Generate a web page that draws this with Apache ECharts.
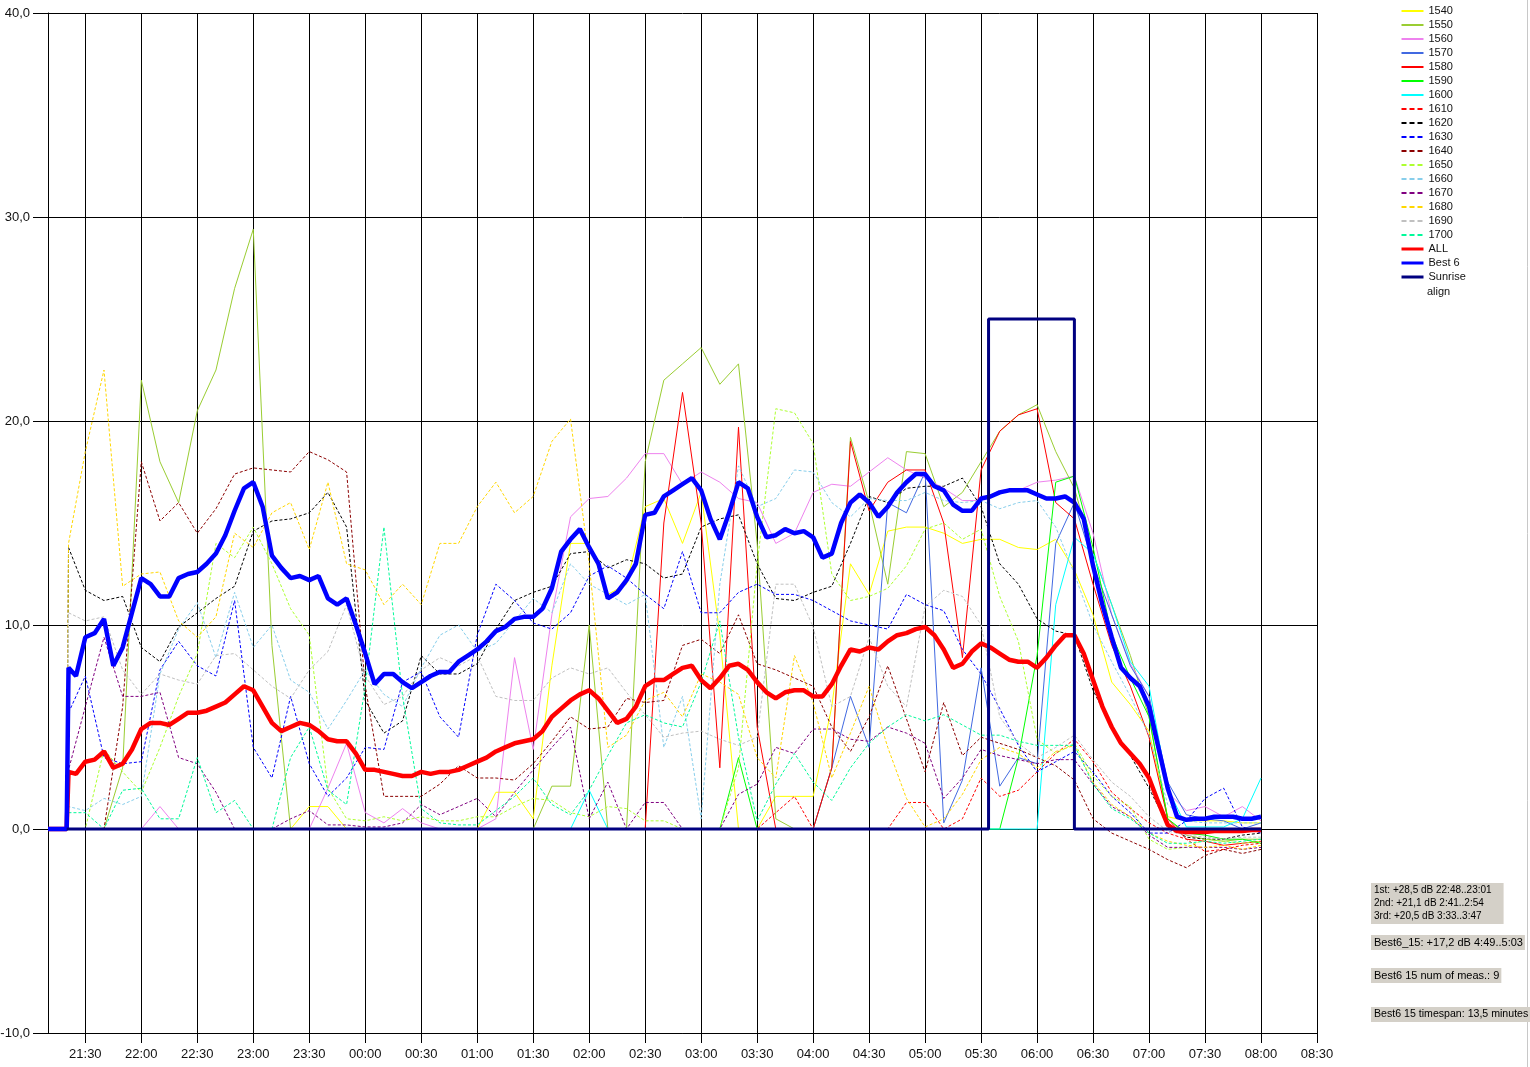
<!DOCTYPE html>
<html><head><meta charset="utf-8">
<script src="https://cdn.jsdelivr.net/npm/echarts@6.0.0/dist/echarts.min.js"></script>
<style>html,body{margin:0;padding:0;background:#fff}#c{width:1530px;height:1067px}</style>
</head><body><div id="c"></div>
<script>
// ---- axis ticks (minutes after 21:30) ----
const xTickValues = [0,30,60,90,120,150,180,210,240,270,300,330,360,390,420,450,480,510,540,570,600,630,660];
const xTickLabels = ['21:30','22:00','22:30','23:00','23:30','00:00','00:30','01:00','01:30','02:00','02:30','03:00','03:30','04:00','04:30','05:00','05:30','06:00','06:30','07:00','07:30','08:00','08:30'];

// ---- time grids (minutes after 21:30) ----
const minutesThin = [-20, -10, -9].concat(Array.from({length: 64}, (_, i) => i * 10));
const minutesMain = [-20, -10, -9, -5].concat(Array.from({length: 127}, (_, i) => i * 5));

// ---- thin series values (dB) ----
const s1540 = [0,0,0,
 0,0,0,0,0,0,0,0,0,0,
 0,0,1.1,1.1,0,0,0,0,0,0,
 0,0,1.8,1.8,0.5,8.0,14.0,14.0,11.5,12.0,
 15.8,16.2,14.0,16.5,9.5,0,0,1.6,1.6,1.6,
 6.0,13.0,11.5,14.6,14.8,14.8,14.5,14.0,14.2,14.2,
 13.8,13.7,14.2,12.7,10.5,7.2,6.1,4.8,0.6,0.4,
 0.4,0.4,0.3,0.3];
const s1550 = [0,0,0,
 0,0,3.0,22.0,18.0,16.0,20.5,22.5,26.5,29.4,
 9.0,0,0,0,0,0,0,0,0,0,
 0,0,0,0,0,2.1,2.1,10.0,0,0,
 18.0,22.0,22.8,23.6,21.8,22.8,14.0,0.5,0,0,
 3.0,19.2,16.0,12.0,18.5,18.4,15.8,16.5,18.0,19.5,
 20.3,20.8,18.5,16.7,13.5,11.0,8.5,5.5,0.5,-0.3,
 -0.5,-0.6,-0.5,-0.5];
const s1560 = [0,0,0,
 0,0,0,0,1.1,0,0,0,0,0,
 0,0,0,2.0,4.2,0.8,0.3,1.0,0.3,0,
 0,0,0.5,8.4,3.9,10.5,15.3,16.2,16.3,17.2,
 18.4,18.4,16.9,17.5,17.0,16.2,16.0,14.0,14.5,16.5,
 16.9,16.8,17.5,18.2,17.6,17.2,16.7,16.1,16.1,16.6,
 16.6,17.0,17.1,17.3,14.5,10.5,8.1,6.5,1.8,0.9,
 1.1,0.6,1.1,0.4];
const s1570 = [0,0,0,
 0,0,0,0,0,0,0,0,0,0,
 0,0,0,0,0,0,0,0,0,0,
 0,0,0,0,0,0,0,0,0,0,
 0,0,0,0,0,0,0,0,0,0,
 3.0,6.5,4.0,16.0,15.5,17.5,0.3,2.4,7.9,2.1,
 3.5,3.2,14.0,16.0,13.0,10.5,8.0,6.5,2.3,0.7,
 0.5,0.4,0,0.3];
const s1580 = [0,0,0,
 0,0,0,0,0,0,0,0,0,0,
 0,0,0,0,0,0,0,0,0,0,
 0,0,0,0,0,0,0,0,0,0,
 0,15.0,21.4,15.0,3.0,19.7,5.0,0,0,0,
 3.0,19.0,15.6,17.0,17.6,17.6,15.0,8.4,17.6,19.5,
 20.3,20.6,16.0,15.2,12.0,9.0,7.0,4.5,0.5,-0.5,
 -0.6,-0.8,-0.7,-0.6];
const s1590 = [0,0,0,
 0,0,0,0,0,0,0,0,0,0,
 0,0,0,0,0,0,0,0,0,0,
 0,0,0,0,0,0,0,0,0,0,
 0,0,0,0,0,3.5,0,0,0,0,
 0,0,0,0,0,0,0,0,0,0,
 3.5,8.5,17.0,17.3,13.8,9.5,7.4,5.5,0.5,-0.2,
 -0.3,-0.5,-0.5,-0.7];
const s1600 = [0,0,0,
 0,0,0,0,0,0,0,0,0,0,
 0,0,0,0,0,0,0,0,0,0,
 0,0,0,0,0,0,0,1.9,0,0,
 0,0,0,0,0,0,0,0,0,0,
 0,0,0,0,0,0,0,0,0,0,
 0,0,11.0,14.3,13.5,11.0,8.2,7.0,2.0,0.1,
 0.1,0.1,0.5,2.5];
const s1610 = [0,0,0,
 0,0,0,0,0,0,0,0,0,0,
 0,0,0,0,0,0,0,0,0,0,
 0,0,0,0,0,0,0,0,0,0,
 0,0,0,0,0,0,0,0.8,1.6,0,
 0,0,0,0,1.3,1.3,0,0.5,2.5,1.6,
 1.9,2.8,3.7,4.4,3.3,1.8,1.0,0.3,-0.2,-0.5,
 -1.1,-1.0,-0.8,-0.7];
const s1620 = [0,0,13.8,
 11.7,11.2,11.4,8.9,8.2,9.9,10.6,11.3,11.9,14.6,
 15.1,15.2,15.5,16.5,14.8,6.3,4.7,5.3,8.5,7.6,
 7.6,8.1,9.8,11.2,11.6,11.9,13.5,13.6,12.8,13.2,
 13.0,12.3,12.5,14.8,15.2,15.4,13.0,11.3,11.2,11.6,
 11.9,14.0,16.3,16.0,16.7,16.8,16.8,17.2,15.8,13.0,
 12.0,10.3,9.7,9.5,6.8,5.0,3.6,2.0,0.2,-0.4,
 -0.5,-0.5,-0.3,-0.2];
const s1630 = [0,0,5.7,
 7.5,3.5,3.2,3.3,7.8,9.2,8.0,7.5,11.2,4.0,
 2.5,6.5,3.2,1.6,2.5,4.0,3.9,7.2,7.7,5.5,
 4.5,9.5,12.0,11.2,10.1,9.8,10.6,12.4,12.9,12.3,
 11.5,10.8,13.6,10.6,10.6,11.6,12.0,11.5,11.5,11.2,
 10.7,10.2,10.0,9.8,11.5,11.0,10.7,8.8,7.6,5.9,
 4.1,2.8,3.3,3.8,2.8,1.6,0.8,-0.2,-0.2,0.4,
 1.5,2.0,0.1,-0.2];
const s1640 = [0,0,0,
 0,0,6.0,18.0,15.1,16.0,14.5,15.7,17.4,17.7,
 17.6,17.5,18.5,18.1,17.5,7.0,1.6,1.6,1.6,2.2,
 3.1,2.5,2.5,2.4,3.2,4.3,5.5,4.9,5.0,6.4,
 6.2,6.3,9.0,9.3,8.6,10.5,8.1,7.8,7.4,7.0,
 5.0,3.8,5.5,8.0,5.4,2.8,6.2,3.6,4.5,4.2,
 3.9,3.5,3.1,2.4,0.5,-0.2,-0.6,-1.0,-1.5,-1.9,
 -1.3,-1.0,-1.2,-1.0];
const s1650 = [0,0,0,
 0,3.9,2.8,1.8,4.0,6.5,8.6,14.0,13.3,14.8,
 13.0,10.8,9.5,2.0,0.5,0.4,0.6,0.4,0.6,0.4,
 0.4,0.6,0.6,1.1,1.5,1.4,0.8,0.6,1.1,1.0,
 0.4,0.4,0,0,0,3.0,13.0,20.6,20.4,18.9,
 12.5,11.2,11.4,11.8,12.9,14.7,15.0,14.2,14.7,11.4,
 9.2,4.4,3.7,4.2,2.6,1.6,1.1,-0.5,-1.0,-0.9,
 -0.5,-0.6,-0.7,-0.6];
const s1660 = [0,0,1.1,
 0.9,1.5,1.2,1.6,7.6,9.8,11.1,8.4,11.6,8.9,
 10.0,7.3,6.7,4.9,6.3,7.8,6.6,6.0,7.9,9.5,
 10.0,8.7,9.1,10.2,11.3,10.6,13.0,12.0,11.5,11.0,
 11.5,4.0,6.5,0.5,12.0,17.8,15.8,16.2,17.6,17.5,
 16.0,15.3,16.2,16.1,16.1,16.5,16.1,16.0,16.1,15.7,
 16.0,16.1,14.8,12.5,10.0,8.2,6.5,4.6,1.2,0.4,
 0.3,0.3,0.3,0.3];
const s1670 = [0,0,2.9,
 6.0,9.4,6.5,6.5,6.7,3.5,3.2,1.8,0,0,
 0,0.5,0.9,0.2,0.2,0.1,0.1,0.3,1.2,0.7,
 1.1,1.5,0.6,1.8,2.9,4.0,5.0,0.5,2.3,0,
 1.3,1.3,0,0,0,1.7,2.2,4.0,3.7,4.9,
 4.9,4.4,4.3,5.0,4.7,4.2,1.5,2.5,3.9,3.6,
 3.4,3.2,3.4,3.4,2.2,1.1,0.6,-0.3,-0.9,-0.9,
 -0.9,-0.9,-1.0,-0.9];
const s1680 = [0,0,14.0,
 18.5,22.5,11.9,12.5,12.6,10.2,9.4,10.4,14.5,13.8,
 15.5,16.0,13.7,17.0,13.0,12.7,11.0,12.0,11.0,14.0,
 14.0,15.8,17.0,15.5,16.3,19.0,20.1,13.0,4.0,4.6,
 6.3,6.7,5.5,7.6,7.2,6.6,3.5,2.5,8.5,6.2,
 2.5,4.7,7.0,4.0,1.5,0.1,0.5,1.7,3.4,4.0,
 3.7,3.0,3.8,4.1,2.3,1.2,0.6,-0.2,-0.6,-0.8,
 -0.9,-0.8,-1.0,-0.8];
const s1690 = [0,0,10.6,
 10.2,10.4,7.8,6.6,7.6,7.3,7.1,8.5,8.6,7.8,
 7.0,6.4,7.8,8.7,11.0,7.5,6.1,6.5,7.8,8.4,
 8.0,8.5,6.5,6.3,6.3,7.4,7.9,7.6,7.9,6.7,
 5.6,4.5,4.7,4.8,4.4,4.1,4.5,12.0,12.0,9.9,
 6.0,6.5,9.4,7.0,6.0,10.9,11.7,11.4,10.0,5.5,
 4.2,3.5,4.0,4.6,3.4,2.3,1.6,0.6,-0.1,-0.3,
 -0.4,-0.5,-0.4,-0.4];
const s1700 = [0,0,0.8,
 0.8,0,1.9,2.0,0.5,0.5,3.5,0.8,1.4,0,
 0,3.5,5.0,1.9,1.2,7.0,14.8,6.5,1.0,0.3,
 0.2,0.2,0.9,1.6,2.5,1.2,0.7,1.9,3.6,5.2,
 5.6,5.2,5.0,7.2,10.2,4.5,0.4,2.2,3.7,2.3,
 1.4,3.0,4.2,5.0,5.6,5.3,5.6,5.1,4.6,4.6,
 4.3,4.1,4.1,4.1,2.2,1.0,0.5,-0.2,-0.7,-0.7,
 -0.6,-0.7,-0.6,-0.5];

// ---- main series (5-minute grid) ----
const allValues = [0,0,2.8,2.7,
 3.3,3.4,3.8,3.0,3.2,3.9,4.9,5.2,5.2,5.1,
 5.4,5.7,5.7,5.8,6.0,6.2,6.6,7.0,6.8,6.0,
 5.2,4.8,5.0,5.2,5.1,4.8,4.4,4.3,4.3,3.7,
 2.9,2.9,2.8,2.7,2.6,2.6,2.8,2.7,2.8,2.8,
 2.9,3.1,3.3,3.5,3.8,4.0,4.2,4.3,4.4,4.8,
 5.5,5.9,6.3,6.6,6.8,6.4,5.8,5.2,5.4,6.0,
 7.0,7.3,7.3,7.6,7.9,8.0,7.3,6.9,7.4,8.0,
 8.1,7.8,7.2,6.7,6.4,6.7,6.8,6.8,6.5,6.5,
 7.1,8.0,8.8,8.7,8.9,8.8,9.2,9.5,9.6,9.8,
 9.9,9.5,8.8,7.9,8.1,8.7,9.1,8.9,8.6,8.3,
 8.2,8.2,7.9,8.4,9.0,9.5,9.5,8.6,7.3,6.0,
 5.0,4.2,3.7,3.2,2.5,1.3,0.2,-0.1,-0.15,-0.15,
 -0.15,-0.1,-0.1,-0.1,-0.1,-0.05,-0.05];
const best6Values = [0,0,7.9,7.5,
 9.4,9.6,10.3,8.0,8.9,10.6,12.3,12.0,11.4,11.4,
 12.3,12.5,12.6,13.0,13.5,14.4,15.6,16.7,17.0,15.8,
 13.4,12.8,12.3,12.4,12.2,12.4,11.3,11.0,11.3,10.0,
 8.6,7.1,7.6,7.6,7.2,6.9,7.2,7.5,7.7,7.7,
 8.2,8.5,8.8,9.2,9.7,9.9,10.3,10.4,10.4,10.8,
 11.8,13.6,14.2,14.7,13.8,13.0,11.3,11.6,12.2,13.0,
 15.4,15.5,16.3,16.6,16.9,17.2,16.6,15.2,14.2,15.5,
 17.0,16.7,15.3,14.3,14.4,14.7,14.5,14.6,14.3,13.3,
 13.5,15.0,16.0,16.4,16.0,15.3,15.8,16.5,17.0,17.4,
 17.4,16.8,16.6,15.9,15.6,15.6,16.2,16.3,16.5,16.6,
 16.6,16.6,16.4,16.2,16.2,16.3,16.0,15.2,12.9,11.0,
 9.4,7.9,7.4,7.0,6.0,4.0,2.0,0.6,0.45,0.5,
 0.5,0.6,0.6,0.6,0.5,0.5,0.6];
const sunriseMinutes = [-10, 484, 484, 530, 530, 630];
const sunriseValues = [0, 0, 25, 25, 0, 0];

const annotationTexts = [
  '1st: +28,5 dB 22:48..23:01\n2nd: +21,1 dB 2:41..2:54\n3rd: +20,5 dB 3:33..3:47',
  'Best6_15: +17,2 dB 4:49..5:03',
  'Best6 15 num of meas.: 9',
  'Best6 15 timespan: 13,5 minutes'
];

// ---- styling ----
const thinNames = ['1540','1550','1560','1570','1580','1590','1600','1610','1620','1630','1640','1650','1660','1670','1680','1690','1700'];
const thinData = [s1540,s1550,s1560,s1570,s1580,s1590,s1600,s1610,s1620,s1630,s1640,s1650,s1660,s1670,s1680,s1690,s1700];
const thinColors = ['#FFFF00','#9ACD32','#EE82EE','#4169E1','#FF0000','#00FF00','#00FFFF','#FF0000','#000000','#0000FF','#8B0000','#ADFF2F','#87CEEB','#800080','#FFD700','#C0C0C0','#00FA9A'];
const thinDashed = [false,false,false,false,false,false,false,true,true,true,true,true,true,true,true,true,true];

const FONT = '"Liberation Sans", Arial, sans-serif';
const hiddenSymbol = {opacity: 0};
const series = [];
const legendData = [];
thinNames.forEach((n, i) => {
  series.push({
    name: n, type: 'line', symbol: 'none', showSymbol: false, silent: true,
    data: minutesThin.map((t, j) => [t, thinData[i][j]]),
    lineStyle: {width: 1, color: thinColors[i], type: thinDashed[i] ? [3, 2] : 'solid'},
    itemStyle: {color: thinColors[i]}, emphasis: {disabled: true}, z: 2
  });
  legendData.push({name: n, itemStyle: hiddenSymbol,
    lineStyle: {width: 2, color: thinColors[i], type: thinDashed[i] ? [5, 3] : 'solid'}});
});
series.push({
  name: 'ALL', type: 'line', symbol: 'none', showSymbol: false, silent: true,
  data: minutesMain.map((t, j) => [t, allValues[j]]),
  lineStyle: {width: 4.5, color: '#FF0000'}, itemStyle: {color: '#FF0000'}, emphasis: {disabled: true}, z: 3
});
legendData.push({name: 'ALL', itemStyle: hiddenSymbol, lineStyle: {width: 3, color: '#FF0000', type: 'solid'}});
series.push({
  name: 'Best 6', type: 'line', symbol: 'none', showSymbol: false, silent: true,
  data: minutesMain.map((t, j) => [t, best6Values[j]]),
  lineStyle: {width: 4.5, color: '#0000FF'}, itemStyle: {color: '#0000FF'}, emphasis: {disabled: true}, z: 4
});
legendData.push({name: 'Best 6', itemStyle: hiddenSymbol, lineStyle: {width: 3, color: '#0000FF', type: 'solid'}});
series.push({
  name: 'Sunrise', type: 'line', symbol: 'none', showSymbol: false, silent: true,
  data: sunriseMinutes.map((t, j) => [t, sunriseValues[j]]),
  lineStyle: {width: 3, color: '#000080'}, itemStyle: {color: '#000080'}, emphasis: {disabled: true}, z: 5
});
legendData.push({name: 'Sunrise', itemStyle: hiddenSymbol, lineStyle: {width: 3, color: '#000080', type: 'solid'}});

const annTops = [883, 935, 968, 1007];
const annSizes = [10, 11, 11, 10.6];
const annPads = [[1, 12, 1, 3], [1, 2, 1, 3], [1, 2, 1, 3], [1, 3, 1, 3]];
const graphics = [
  {type: 'line', shape: {x1: 1527.5, y1: 0, x2: 1527.5, y2: 1067}, style: {stroke: '#c8c8c8', lineWidth: 1}, silent: true},
  {type: 'text', x: 1427, y: 292, style: {text: 'align', fontSize: 11, fontFamily: FONT, fill: '#111', verticalAlign: 'middle'}, silent: true}
];
annotationTexts.forEach((t, i) => {
  graphics.push({type: 'text', x: 1371, y: annTops[i], z: 10, silent: true,
    style: {text: t, fontSize: annSizes[i], fontFamily: FONT, fill: '#000', backgroundColor: '#d4d0c8', padding: annPads[i], lineHeight: 13}});
});

const chart = echarts.init(document.getElementById('c'), null, {renderer: 'canvas'});
chart.setOption({
  animation: false,
  backgroundColor: '#fff',
  grid: {left: 48, right: 213, top: 13, bottom: 34, containLabel: false, outerBoundsMode: 'none'},
  xAxis: {
    type: 'value', min: -20, max: 660,
    axisLine: {show: true, onZero: false, lineStyle: {color: '#000', width: 1}},
    axisTick: {show: true, length: 10, customValues: xTickValues, lineStyle: {color: '#000'}},
    axisLabel: {customValues: xTickValues, margin: 15, fontSize: 13, fontFamily: FONT, color: '#111',
      formatter: v => xTickLabels[xTickValues.indexOf(v)] || ''},
    splitLine: {show: true, lineStyle: {color: '#000', width: 1}}
  },
  yAxis: {
    type: 'value', min: -10, max: 40, interval: 10,
    axisLine: {show: true, onZero: false, lineStyle: {color: '#000', width: 1}},
    axisTick: {show: true, length: 15, lineStyle: {color: '#000'}},
    axisLabel: {margin: 18, fontSize: 13, fontFamily: FONT, color: '#111',
      formatter: v => v.toFixed(1).replace('.', ',')},
    splitLine: {show: true, lineStyle: {color: '#000', width: 1}}
  },
  legend: {
    orient: 'vertical', left: 1400, top: 4, padding: 0, itemGap: 0,
    itemWidth: 22, itemHeight: 14, selectedMode: false,
    textStyle: {fontSize: 11, lineHeight: 14, fontFamily: FONT, color: '#111'},
    data: legendData
  },
  graphic: graphics,
  series: series
});
</script></body></html>
